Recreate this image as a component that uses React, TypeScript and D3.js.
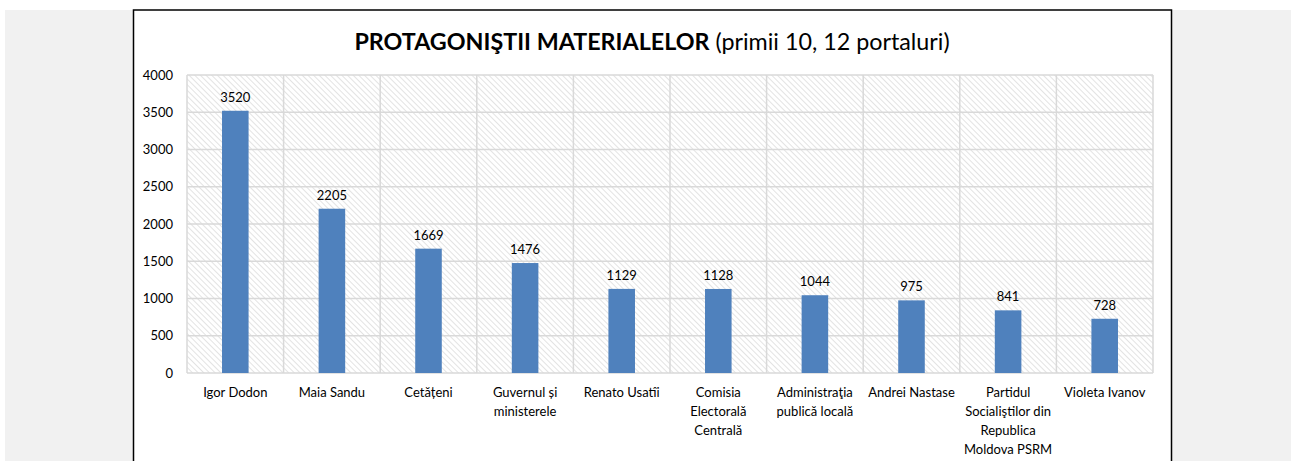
import * as d3 from 'd3';
import React from 'react';

const categories = [
  'Igor Dodon',
  'Maia Sandu',
  'Cetățeni',
  'Guvernul și ministerele',
  'Renato Usatîi',
  'Comisia Electorală Centrală',
  'Administraţia publică locală',
  'Andrei Nastase',
  'Partidul Socialiştilor din Republica Moldova PSRM',
  'Violeta Ivanov',
];
const categoryLines = [
  ['Igor Dodon'],
  ['Maia Sandu'],
  ['Cetățeni'],
  ['Guvernul și', 'ministerele'],
  ['Renato Usatîi'],
  ['Comisia', 'Electorală', 'Centrală'],
  ['Administraţia', 'publică locală'],
  ['Andrei Nastase'],
  ['Partidul', 'Socialiştilor din', 'Republica', 'Moldova PSRM'],
  ['Violeta Ivanov'],
];
const values = [3520, 2205, 1669, 1476, 1129, 1128, 1044, 975, 841, 728];
const yTicks = [0, 500, 1000, 1500, 2000, 2500, 3000, 3500, 4000];

const FONT = 'Lato, "Open Sans", sans-serif';

export default function App() {
  const W = 1291;
  const H = 461;
  const plot = { left: 187, right: 1153, top: 75, bottom: 373 };

  const x = d3.scaleBand<string>()
    .domain(categories)
    .range([plot.left, plot.right])
    .paddingInner(0)
    .paddingOuter(0);
  const y = d3.scaleLinear().domain([0, 4000]).range([plot.bottom, plot.top]);
  const barW = x.bandwidth() * 0.275;

  return (
    <svg width={W} height={H} style={{ position: 'absolute', left: 0, top: 0 }}>
      <defs>
        <pattern id="hatch" width="4" height="4" patternUnits="userSpaceOnUse" patternTransform="rotate(-45)">
          <rect width="4" height="4" fill="#ffffff" />
          <line x1="0" y1="0" x2="0" y2="4" stroke="#d4d4d4" strokeWidth="1.3" />
        </pattern>
      </defs>
      <rect x={0} y={0} width={W} height={H} fill="#ffffff" />
      <rect x={5} y={10} width={W - 5} height={H - 10} fill="#f1f1f1" />
      <rect x={133.5} y={10} width={1038} height={H} fill="#ffffff" stroke="#000" strokeWidth={1.5} />

      <text x={652} y={50} textAnchor="middle" fontFamily={FONT} fontSize={23.3} fill="#000">
        <tspan fontWeight="bold">PROTAGONIŞTII MATERIALELOR</tspan>
        <tspan> (primii 10, 12 portaluri)</tspan>
      </text>

      <rect x={plot.left} y={plot.top} width={plot.right - plot.left} height={plot.bottom - plot.top} fill="url(#hatch)" />

      {yTicks.map((t) => (
        <g key={t}>
          <line x1={plot.left} x2={plot.right} y1={y(t)} y2={y(t)} stroke="#d9d9d9" strokeWidth={1.5} />
          <text x={173} y={y(t) + 4.5} textAnchor="end" fontFamily={FONT} fontSize={13} fill="#000">{t}</text>
        </g>
      ))}
      {categories.map((c) => (
        <line key={c} x1={x(c)} x2={x(c)} y1={plot.top} y2={plot.bottom} stroke="#d9d9d9" strokeWidth={1.5} />
      ))}
      <line x1={plot.right} x2={plot.right} y1={plot.top} y2={plot.bottom} stroke="#d9d9d9" strokeWidth={1.5} />

      {categories.map((c, i) => {
        const cx = (x(c) ?? 0) + x.bandwidth() / 2;
        return (
          <g key={c}>
            <rect x={cx - barW / 2} y={y(values[i])} width={barW} height={plot.bottom - y(values[i])} fill="#4f81bd" />
            <text x={cx} y={y(values[i]) - 9} textAnchor="middle" fontFamily={FONT} fontSize={13} fill="#000">{values[i]}</text>
            <text textAnchor="middle" fontFamily={FONT} fontSize={13} fill="#000">
              {categoryLines[i].map((l, j) => (
                <tspan key={j} x={cx} y={397 + j * 19}>{l}</tspan>
              ))}
            </text>
          </g>
        );
      })}
    </svg>
  );
}
